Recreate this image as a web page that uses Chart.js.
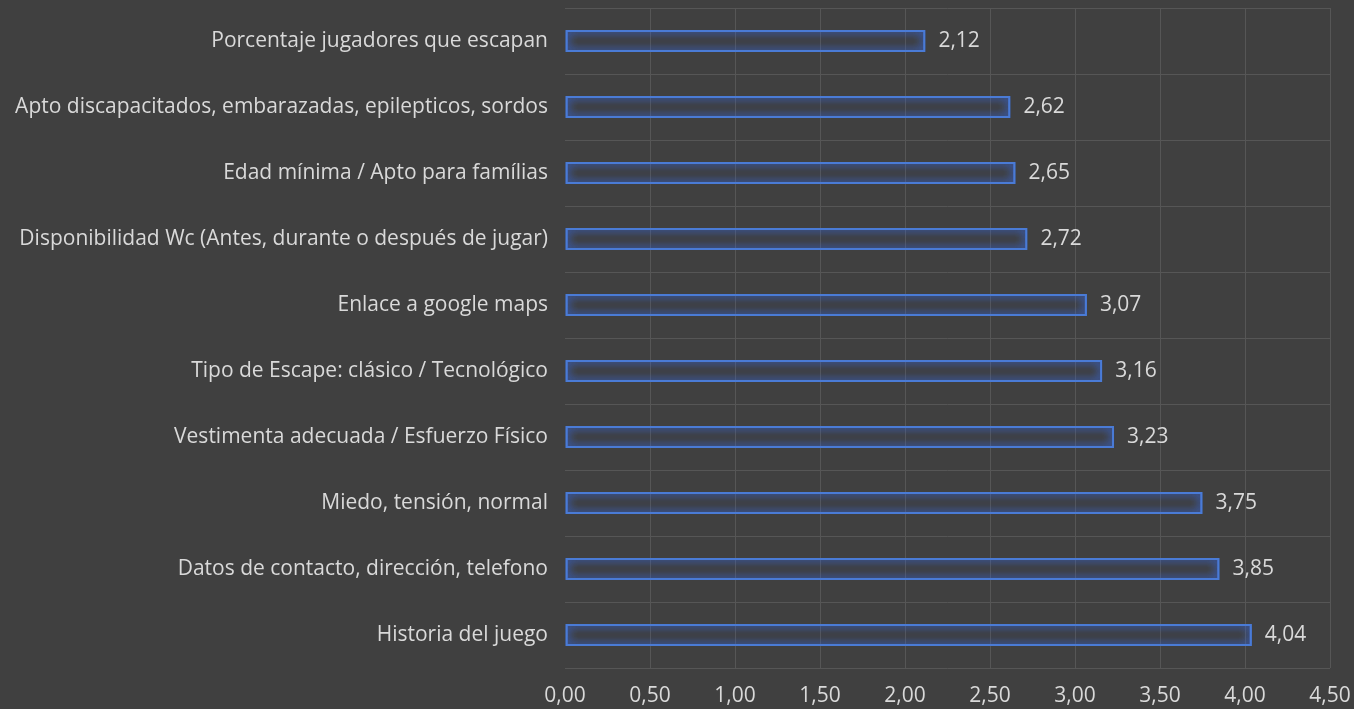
<!DOCTYPE html>
<html>
<head>
<meta charset="utf-8">
<script src="https://cdn.jsdelivr.net/npm/chart.js@4.4.0/dist/chart.umd.min.js"></script>
<style>
html,body{margin:0;padding:0;background:#404040;}
#wrap{width:1354px;height:709px;position:relative;}
</style>
</head>
<body>
<div id="wrap"><canvas id="c" width="1354" height="709"></canvas></div>
<script>
const categories = [
  "Porcentaje jugadores que escapan",
  "Apto discapacitados, embarazadas, epilepticos, sordos",
  "Edad mínima / Apto para famílias",
  "Disponibilidad Wc (Antes, durante o después de jugar)",
  "Enlace a google maps",
  "Tipo de Escape: clásico / Tecnológico",
  "Vestimenta adecuada / Esfuerzo Físico",
  "Miedo, tensión, normal",
  "Datos de contacto, dirección, telefono",
  "Historia del juego"
];
const values = [2.12, 2.62, 2.65, 2.72, 3.07, 3.16, 3.23, 3.75, 3.85, 4.04];
const axisMin = 0;
const axisMax = 4.5;
const axisStep = 0.5;

const fmt = v => v.toFixed(2).replace('.', ',');
const FONT = '"Open Sans", "Noto Sans", sans-serif';
const TEXT = '#d9d9d9';
const FS = 21;
const GRID = '#565656';

const glowPlugin = {
  id: 'glow',
  beforeDatasetsDraw(chart) {
    const ctx = chart.ctx;
    ctx.save();
    ctx.shadowColor = 'rgba(55,105,225,1)';
    ctx.shadowBlur = 9;
  },
  afterDatasetsDraw(chart) {
    const ctx = chart.ctx;
    const meta = chart.getDatasetMeta(0);
    // second pass to strengthen the glow
    meta.data.forEach(bar => bar.draw(ctx, chart.chartArea));
    ctx.restore();
    ctx.save();
    ctx.fillStyle = TEXT;
    ctx.font = FS + 'px ' + FONT;
    ctx.textAlign = 'left';
    ctx.textBaseline = 'middle';
    meta.data.forEach((bar, i) => {
      ctx.fillText(fmt(values[i]), bar.x + 13, bar.y);
    });
    ctx.restore();
  }
};

new Chart(document.getElementById('c'), {
  type: 'bar',
  data: {
    labels: categories,
    datasets: [{
      data: values,
      backgroundColor: 'rgba(0,0,0,0)',
      borderColor: '#4a7bd6',
      borderWidth: 2,
      borderSkipped: false,
      barPercentage: 0.33,
      categoryPercentage: 1
    }]
  },
  options: {
    indexAxis: 'y',
    responsive: false,
    animation: false,
    layout: { padding: { left: 0, right: 24, top: 8, bottom: 0 } },
    plugins: { legend: { display: false }, tooltip: { enabled: false } },
    scales: {
      x: {
        min: axisMin, max: axisMax,
        ticks: {
          stepSize: axisStep,
          color: TEXT,
          font: { family: FONT, size: FS },
          padding: 15,
          maxRotation: 0,
          callback: v => fmt(v)
        },
        grid: {
          color: c => (c.tick && c.tick.value === 0) ? 'rgba(0,0,0,0)' : GRID,
          lineWidth: 1, drawTicks: false
        },
        border: { display: false },
        afterFit(scale) { scale.height = 41; scale.paddingLeft = 0; scale.paddingRight = 0; }
      },
      y: {
        ticks: {
          color: TEXT,
          font: { family: FONT, size: FS },
          padding: 17
        },
        grid: { color: GRID, lineWidth: 1, drawTicks: false, offset: true },
        border: { display: false },
        afterFit(scale) { scale.width = 565; scale.paddingTop = 0; scale.paddingBottom = 0; }
      }
    }
  },
  plugins: [glowPlugin]
});
</script>
</body>
</html>
